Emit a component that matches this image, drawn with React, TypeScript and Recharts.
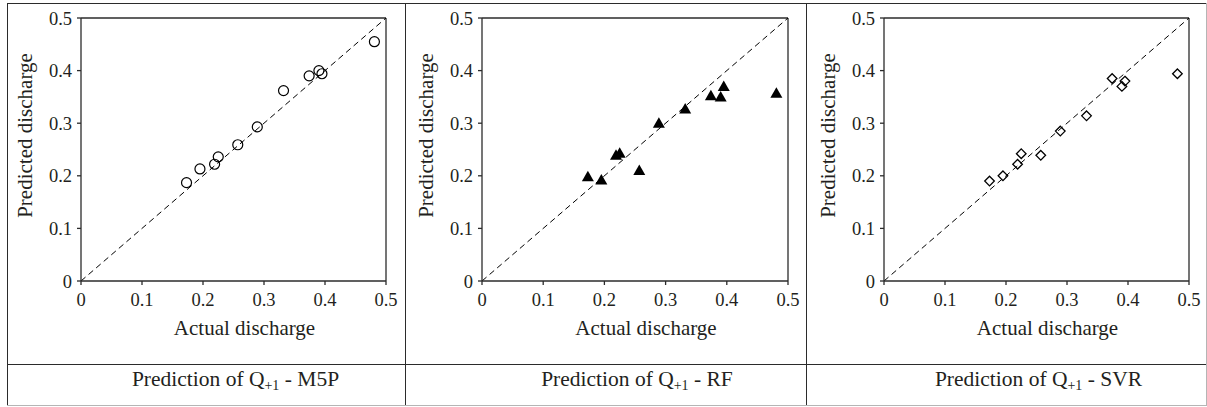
import React from "react";
import { ScatterChart, Scatter, XAxis, YAxis, ReferenceLine } from "recharts";

// Actual discharge (shared x values) and predictions of each model
const actual = [0.173, 0.195, 0.219, 0.225, 0.257, 0.289, 0.332, 0.374, 0.39, 0.395, 0.481];
const m5p = [0.187, 0.213, 0.222, 0.236, 0.259, 0.293, 0.362, 0.39, 0.4, 0.394, 0.455];
const rf = [0.198, 0.192, 0.239, 0.243, 0.21, 0.3, 0.327, 0.352, 0.35, 0.37, 0.357];
const svr = [0.19, 0.2, 0.222, 0.242, 0.239, 0.285, 0.314, 0.385, 0.37, 0.38, 0.394];
const ticks = [0, 0.1, 0.2, 0.3, 0.4, 0.5];
const modelNames = ["M5P", "RF", "SVR"];

const FONT = '"Liberation Serif", "Times New Roman", "DejaVu Serif", serif';
const INK = "#231f20";
const LINE = "#2b2b2b";

const fmt = (v: number) => (v === 0 ? "0" : v.toFixed(1));

const Circle = ({ cx, cy }: any) => (
  <circle cx={cx} cy={cy} r={5} fill="none" stroke="#000" strokeWidth={1.2} />
);
const Triangle = ({ cx, cy }: any) => (
  <path d={`M${cx},${cy - 6} L${cx + 6},${cy + 4.5} L${cx - 6},${cy + 4.5} Z`} fill="#000" />
);
const Diamond = ({ cx, cy }: any) => (
  <path
    d={`M${cx},${cy - 4.8} L${cx + 4.8},${cy} L${cx},${cy + 4.8} L${cx - 4.8},${cy} Z`}
    fill="none" stroke="#000" strokeWidth={1.3}
  />
);

const panels = [
  { chartLeft: 8, plotLeft: 81, plotRight: 386, values: m5p, shape: Circle },
  { chartLeft: 406, plotLeft: 482, plotRight: 788, values: rf, shape: Triangle },
  { chartLeft: 807, plotLeft: 884, plotRight: 1189, values: svr, shape: Diamond },
];

const CHART_W = 398;
const CHART_H = 358;

function Panel({ idx }: { idx: number }) {
  const p = panels[idx];
  const data = actual.map((a, i) => ({ x: a, y: p.values[i] }));
  const tickStyle = { fill: INK, fontSize: 18.5, fontFamily: FONT };
  return (
    <div style={{ position: "absolute", left: p.chartLeft, top: 3 }}>
      <ScatterChart
        width={CHART_W}
        height={CHART_H}
        margin={{ top: 15, right: p.chartLeft + CHART_W - p.plotRight, bottom: 50, left: 0 }}
      >
        <XAxis
          type="number" dataKey="x" domain={[0, 0.5]} ticks={ticks}
          tickFormatter={fmt} tick={tickStyle} tickSize={4} tickMargin={8}
          stroke={LINE} strokeWidth={1.3} height={30}
          label={{
            content: ({ viewBox }: any) => (
              <text
                x={viewBox.x + viewBox.width / 2 + 11} y={viewBox.y + 54}
                textAnchor="middle" fill={INK} fontSize={21} fontFamily={FONT}
              >
                Actual discharge
              </text>
            ),
          }}
        />
        <YAxis
          type="number" dataKey="y" domain={[0, 0.5]} ticks={ticks}
          tickFormatter={fmt} tick={tickStyle} tickSize={4} tickMargin={5}
          stroke={LINE} strokeWidth={1.3} width={p.plotLeft - p.chartLeft}
          label={{
            content: ({ viewBox }: any) => {
              const cx = viewBox.x + viewBox.width - 56;
              const cy = viewBox.y + viewBox.height / 2 - 14;
              return (
                <text
                  x={cx} y={cy} transform={`rotate(-90 ${cx} ${cy})`}
                  textAnchor="middle" dominantBaseline="central"
                  fill={INK} fontSize={21} fontFamily={FONT}
                >
                  Predicted discharge
                </text>
              );
            },
          }}
        />
        <ReferenceLine x={0.5} stroke={LINE} strokeWidth={1.3} />
        <ReferenceLine y={0.5} stroke={LINE} strokeWidth={1.3} />
        <ReferenceLine
          segment={[{ x: 0, y: 0 }, { x: 0.5, y: 0.5 }]}
          stroke="#000" strokeWidth={1} strokeDasharray="6 4"
        />
        <Scatter data={data} shape={p.shape} isAnimationActive={false} />
      </ScatterChart>
    </div>
  );
}

function Caption({ idx }: { idx: number }) {
  const p = panels[idx];
  const center = (p.plotLeft + p.plotRight) / 2 + 2;
  return (
    <div
      style={{
        position: "absolute", left: center - 150, width: 300, top: 367,
        textAlign: "center", fontFamily: FONT, fontSize: 21.5, color: INK,
        lineHeight: "24px", whiteSpace: "nowrap",
      }}
    >
      Prediction of Q<sub style={{ fontSize: 14, verticalAlign: -4 }}>+1</sub> - {modelNames[idx]}
    </div>
  );
}

const hLine = (top: number, left: number, width: number, color: string) => (
  <div style={{ position: "absolute", top, left, width, height: 1, background: color }} />
);
const vLine = (left: number, top: number, height: number, color: string) => (
  <div style={{ position: "absolute", top, left, width: 1, height, background: color }} />
);

export default function App() {
  return (
    <div
      style={{
        position: "absolute", left: 0, top: 0, width: 1207, height: 407,
        background: "#fff", overflow: "hidden",
      }}
    >
      {hLine(3, 7, 1200, LINE)}
      {hLine(364, 7, 1200, LINE)}
      {hLine(405, 7, 1200, "#b5b5b5")}
      {vLine(7, 3, 402, LINE)}
      {vLine(405, 3, 402, LINE)}
      {vLine(806, 3, 402, LINE)}
      {vLine(1206, 3, 402, "#b5b5b5")}
      {panels.map((_, i) => (
        <Panel key={i} idx={i} />
      ))}
      {panels.map((_, i) => (
        <Caption key={"c" + i} idx={i} />
      ))}
    </div>
  );
}
